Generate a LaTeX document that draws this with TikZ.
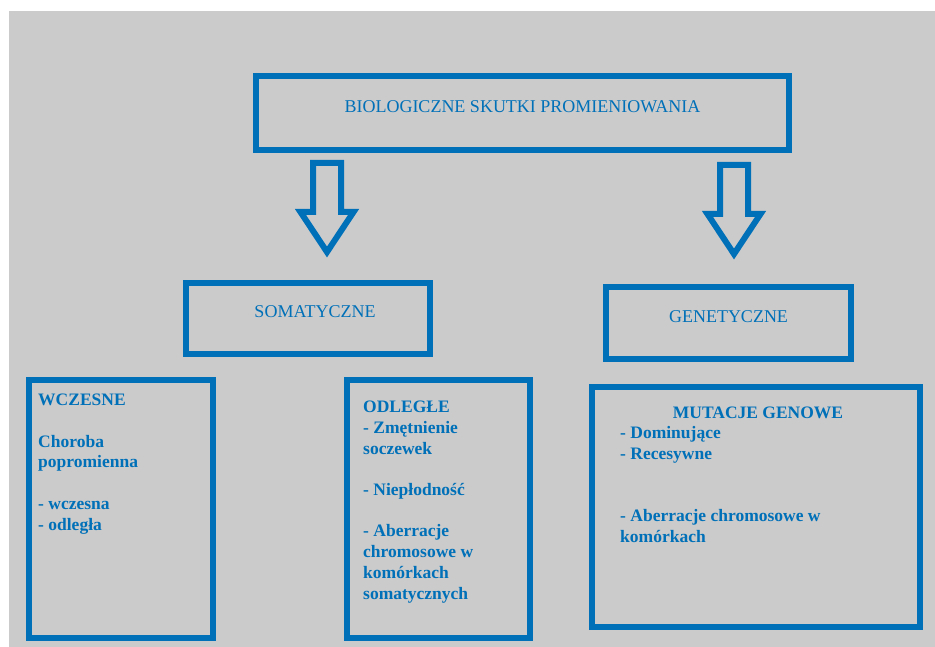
\documentclass[tikz,border=0pt]{standalone}
\usepackage{fontspec}
\setmainfont{Liberation Serif}
\usetikzlibrary{calc}
\definecolor{skyblue}{RGB}{0,112,184}
\definecolor{panel}{RGB}{203,203,203}

\begin{document}
\begin{tikzpicture}[x=1pt,y=-1pt,
  box/.style={draw=skyblue,line width=6.5pt,inner sep=0pt},
  head/.style={box,text=skyblue,font=\fontsize{18}{20}\selectfont,text depth=13pt},
  txt/.style={inner sep=0pt,align=left,text=skyblue,font=\bfseries\fontsize{17.5}{20.7}\selectfont},
  hollow/.style={draw=skyblue,line width=6pt,line join=miter}]
  \useasboundingbox (0,0) rectangle (935,647);
  \fill[panel] (9,11) rectangle (935,647);
  % headings
  \node[head,minimum width=533pt,minimum height=74pt] (top) at (522.5,113) {BIOLOGICZNE SKUTKI PROMIENIOWANIA};
  \node[head,minimum width=244pt,minimum height=71pt] (soma) at (308,318.5) {\hspace{14pt}SOMATYCZNE};
  \node[head,minimum width=245pt,minimum height=72pt] (gene) at (728.5,323) {GENETYCZNE};
  % lower boxes
  \node[box,minimum width=184pt,minimum height=258pt] (early) at (121,509) {};
  \node[box,minimum width=183pt,minimum height=258pt] (late) at (438.5,509) {};
  \node[box,minimum width=328pt,minimum height=240pt] (mut) at (756,507) {};
  % base = last line
  \node[txt,anchor=base west] (earlytxt) at (38,530)
    {WCZESNE\\[20.7pt] Choroba\\ popromienna\\[20.7pt] - wczesna\\ - odległa};
  \node[txt,anchor=base west] (latetxt) at (363,599)
    {ODLEGŁE\\ - Zmętnienie\\ soczewek\\[20.7pt] - Niepłodność\\[20.7pt] - Aberracje\\ chromosowe w\\ komórkach\\ somatycznych};
  \node[txt,anchor=base] (muthead) at (758,418) {MUTACJE GENOWE};
  \node[txt,anchor=base west] (muttxt) at (620,542)
    {- Dominujące\\ - Recesywne\\[41.4pt] - Aberracje chromosowe w\\ komórkach};
  % block arrows
  \coordinate (tipL) at (327,252);
  \coordinate (tipR) at (734,254);
  \foreach \t in {tipL,tipR}
    \draw[hollow] (\t) -- ++(-26.5,-40) -- ++(12.5,0) -- ++(0,-49) -- ++(28,0)
      -- ++(0,49) -- ++(12.5,0) -- cycle;
\end{tikzpicture}
\end{document}
